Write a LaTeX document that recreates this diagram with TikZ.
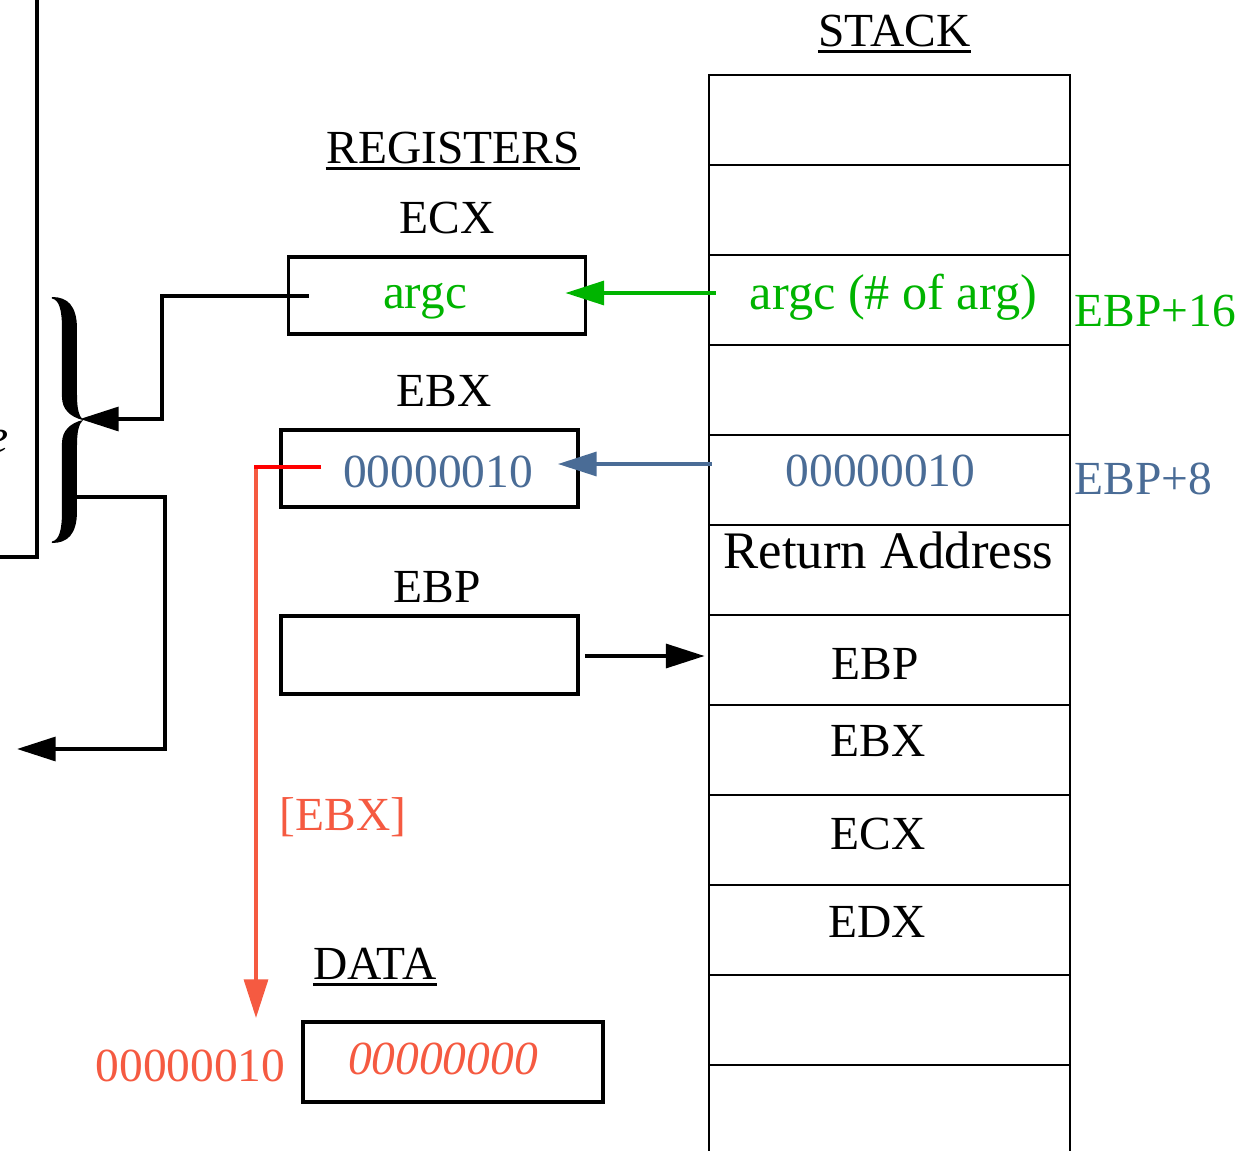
\documentclass[tikz,border=0pt]{standalone}
\usepackage{fontspec}
\setmainfont{Liberation Serif}
\usetikzlibrary{calc}
\usetikzlibrary{arrows.meta}
\definecolor{argcgreen}{RGB}{0,180,0}
\definecolor{ebxblue}{RGB}{74,108,150}
\definecolor{ptrred}{RGB}{245,90,65}
\newcommand{\regfont}{\fontsize{13.5}{16}\selectfont}
\tikzset{
  lbl/.style={inner sep=0, anchor=base},
  regbox/.style={draw, line width=1.05pt, minimum width=2.97cm, minimum height=0.77cm, inner sep=0},
  cell/.style={draw, line width=0.75pt, minimum width=3.61cm, minimum height=0.9cm, inner sep=0},
  conn/.style={line width=1pt},
  bigtip/.style={-{Triangle[length=11pt,width=6.8pt]}},
  uline/.style={line width=0.85pt}
}
\begin{document}
\begin{tikzpicture}[x=0.01cm, y=-0.01cm, font=\regfont]
\useasboundingbox (0,0) rectangle (1253,1151);
% stack
\foreach \i in {0,...,11}
  \node[cell] (s\i) at (889.5,{120+90*\i}) {};
\node[lbl] (stack) at (894.5,46) {STACK};
\draw[uline] ([yshift=-1.7pt]stack.base west) -- ([yshift=-1.7pt]stack.base east);
\node[lbl, text=argcgreen, font=\fontsize{14.3}{17}\selectfont] (sargc) at (893.5,309) {argc (\# of arg)};
\node[lbl, text=ebxblue] (sval) at (880.5,486) {00000010};
\node[lbl, font=\fontsize{15}{18}\selectfont] (sret) at (888.5,568) {Return Address};
\node[lbl] (sebp) at (875,679) {EBP};
\node[lbl] (sebx) at (878,756) {EBX};
\node[lbl] (secx) at (878,849) {ECX};
\node[lbl] (sedx) at (877,937) {EDX};
\node[lbl, anchor=base west, text=argcgreen] (off16) at (1074,326) {EBP+16};
\node[lbl, anchor=base west, text=ebxblue] (off8) at (1074,494) {EBP+8};
% registers
\node[lbl] (regs) at (453,163) {REGISTERS};
\draw[uline] ([yshift=-1.5pt]regs.base west) -- ([yshift=-1.5pt]regs.base east);
\node[lbl] (ecxlbl) at (447,233) {ECX};
\node[regbox] (ecx) at (437,295.5) {};
\node[lbl, text=argcgreen, font=\fontsize{14}{17}\selectfont] (ecxval) at (425,308) {argc};
\node[lbl] (ebxlbl) at (444,406) {EBX};
\node[regbox] (ebx) at (429.5,468.5) {};
\node[lbl, text=ebxblue] (ebxval) at (438,487) {00000010};
\node[lbl] (ebplbl) at (437.5,602) {EBP};
\node[regbox, minimum height=0.78cm] (ebp) at (429.5,655) {};
% data
\node[lbl] (data) at (375,979) {DATA};
\draw[uline] ([yshift=-1.5pt]data.base west) -- ([yshift=-1.5pt]data.base east);
\node[regbox, minimum width=3cm, minimum height=0.8cm] (mem) at (453,1062) {};
\node[lbl, text=ptrred, font=\regfont\itshape] (memval) at (443,1074) {00000000};
\node[lbl, text=ptrred] (addr) at (190.5,1081) {00000010};
\node[lbl, text=ptrred] (deref) at (343,830) {[EBX]};
% pointers
\draw[conn, argcgreen, bigtip] ($(s2.west)+(8,-7)$) -- ($(ecx.east)+(-22,-2.5)$);
\draw[conn, ebxblue, bigtip] ($(s4.west)+(4,-16)$) -- ($(ebx.east)+(-22,-4.5)$);
\draw[conn, bigtip] ($(ebp.east)+(5,1)$) -- ($(s6.west)+(-3,-4)$);
\coordinate (ebxref) at ($(ebx.west)+(42,-1.5)$);
\coordinate (ptrbend) at (256,467);
\coordinate (ptrend) at (256,1018);
\draw[conn, ptrred, bigtip] ($(ptrbend)+(0,-1.5)$) -- (ptrend);
\draw[conn, red] (ebxref) -- ($(ptrbend)+(-1.5,0)$);
% brace side
\coordinate (bracetip) at (80,419);
\coordinate (braceleg) at (73,497);
\coordinate (exitpt) at (17,749);
\draw[conn, bigtip] ($(ecx.west)+(22,0.5)$) -| ($(bracetip)+(82,0)$) -- (bracetip);
\draw[conn, bigtip] (braceleg) -- ++(92,0) |- (exitpt);
\foreach \s/\o in {1/0,-1/246}
  \fill[shift={(52,297+\o)}, yscale=\s] (0,0) .. controls (15,0) and (25,8) .. (25,32)
    -- (25,98) .. controls (25,112) and (27,119) .. (31,123)
    .. controls (18,120) and (10,112) .. (10,100) -- (10,32)
    .. controls (10,12) and (7,3) .. (0,1.5) -- cycle;
\draw[conn] (37,-5) -- (37,557) -- (-5,557);
\node[lbl, anchor=base east, font=\regfont\itshape] (cut) at (9,452) {e};
\end{tikzpicture}
\end{document}
